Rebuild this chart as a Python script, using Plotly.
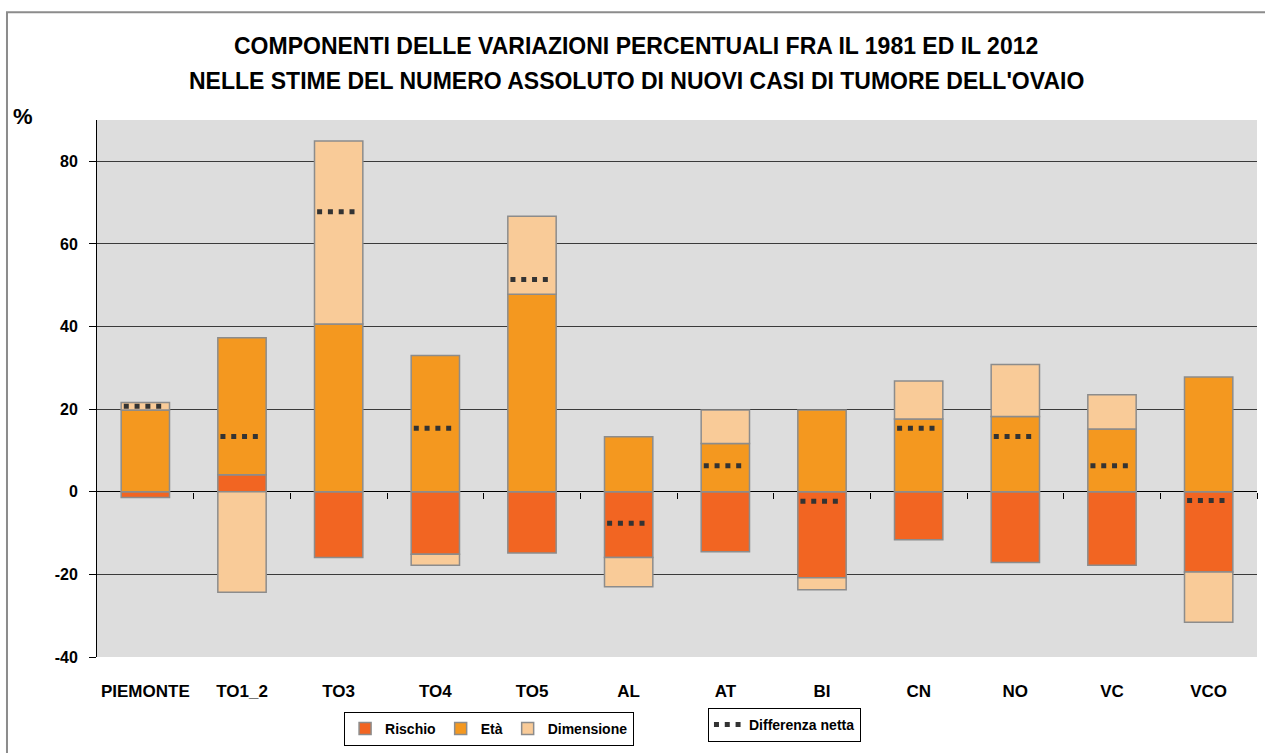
import plotly.graph_objects as go

categories = ["PIEMONTE", "TO1_2", "TO3", "TO4", "TO5", "AL", "AT", "BI", "CN", "NO", "VC", "VCO"]
rischio = [-1.4, 4.1, -15.9, -15.1, -14.8, -15.9, -14.5, -20.8, -11.6, -17.1, -17.8, -19.4]
eta = [19.8, 33.2, 40.6, 33.0, 47.8, 13.3, 11.7, 19.8, 17.6, 18.2, 15.2, 27.8]
dimensione = [1.8, -24.3, 44.3, -2.7, 18.9, -7.1, 8.1, -2.9, 9.2, 12.6, 8.3, -12.2]
netta = [20.7, 13.4, 67.8, 15.4, 51.4, -7.6, 6.3, -2.3, 15.4, 13.4, 6.3, -2.1]
y_ticks = [-40, -20, 0, 20, 40, 60, 80]
y_tick_labels = ["-40", "-20", "0", "20", "40", "60", "80"]

title_1 = "COMPONENTI DELLE VARIAZIONI PERCENTUALI FRA IL 1981 ED IL 2012"
title_2 = "NELLE STIME DEL NUMERO ASSOLUTO DI NUOVI CASI DI TUMORE DELL'OVAIO"

FONT = "Liberation Sans, Arial, sans-serif"
xpos = list(range(len(categories)))

fig = go.Figure()
bar_line = dict(color="#8c8c8c", width=1.5)
fig.add_trace(go.Bar(x=xpos, y=rischio, name="Rischio", width=0.5,
                     marker=dict(color="#F26522", line=bar_line), legend="legend"))
fig.add_trace(go.Bar(x=xpos, y=eta, name="Età", width=0.5,
                     marker=dict(color="#F4981F", line=bar_line), legend="legend"))
fig.add_trace(go.Bar(x=xpos, y=dimensione, name="Dimensione", width=0.5,
                     marker=dict(color="#F9CB98", line=bar_line), legend="legend"))

# net difference: short dotted segment per category
seg_x, seg_y = [], []
for i, v in zip(xpos, netta):
    seg_x += [i - 0.223, i + 0.165, None]
    seg_y += [v, v, None]
fig.add_trace(go.Scatter(x=seg_x, y=seg_y, mode="lines", name="Differenza netta",
                         line=dict(color="#333333", width=5, dash="5px,5.8px"),
                         connectgaps=False, legend="legend2"))

# invisible overlay axis to draw category-boundary ticks on the zero line
fig.add_trace(go.Scatter(x=xpos, y=[0] * len(xpos), xaxis="x2", mode="markers",
                         marker=dict(opacity=0), showlegend=False, hoverinfo="skip"))

fig.update_layout(
    width=1265, height=753,
    margin=dict(l=97, r=8, t=120, b=95),
    barmode="relative",
    bargap=0.5,
    paper_bgcolor="white",
    plot_bgcolor="#DDDDDD",
    font=dict(family=FONT, color="black"),
    xaxis=dict(range=[-0.5, 11.5], tickvals=xpos, ticktext=categories,
               showgrid=False, zeroline=False, ticks="", showline=False,
               tickfont=dict(size=17, weight="bold", family=FONT),
               ticklabelstandoff=22),
    xaxis2=dict(range=[-0.5, 11.5], overlaying="x", anchor="free",
                position=40 / 130, side="bottom",
                tickvals=[i + 0.5 for i in xpos], ticks="outside", ticklen=6,
                tickcolor="black", tickwidth=1, showticklabels=False,
                showgrid=False, zeroline=False, showline=False),
    yaxis=dict(range=[-40, 90], tickvals=y_ticks, ticktext=y_tick_labels, showgrid=True,
               gridcolor="#3a3a3a", gridwidth=1, zeroline=True,
               zerolinecolor="black", zerolinewidth=1.2,
               showline=True, linecolor="black", linewidth=1,
               ticks="outside", ticklen=7, tickcolor="black",
               tickfont=dict(size=16, weight="bold", family=FONT),
               ticklabelstandoff=8),
    legend=dict(orientation="h", x=0.213, y=-0.1004, xanchor="left", yanchor="top",
                bordercolor="black", borderwidth=1, bgcolor="white",
                font=dict(size=14, weight="bold", family=FONT),
                itemwidth=30, tracegroupgap=0),
    legend2=dict(orientation="h", x=0.5267, y=-0.0929, xanchor="left", yanchor="top",
                 bordercolor="black", borderwidth=1, bgcolor="white",
                 font=dict(size=14, weight="bold", family=FONT), itemwidth=30),
    annotations=[
        dict(text=title_1, xref="paper", yref="paper", x=0.4647, y=1.1375,
             xanchor="center", yanchor="middle", showarrow=False,
             font=dict(size=23, weight="bold", family=FONT)),
        dict(text=title_2, xref="paper", yref="paper", x=0.4647, y=1.0725,
             xanchor="center", yanchor="middle", showarrow=False,
             font=dict(size=23, weight="bold", family=FONT)),
        dict(text="%", xref="paper", yref="paper", x=-0.0642, y=1.0074,
             xanchor="center", yanchor="middle", showarrow=False,
             font=dict(size=22, weight="bold", family=FONT)),
    ],
    shapes=[dict(type="rect", xref="paper", yref="paper", x0=-0.0776, x1=1.03,
                 y0=-0.3, y1=1.2007, line=dict(color="#8c8c8c", width=2),
                 fillcolor="rgba(0,0,0,0)", layer="below")],
)

fig.write_html("out.html", config={"displayModeBar": False},
               post_script="document.body.style.margin='0';document.body.style.overflow='hidden';")
